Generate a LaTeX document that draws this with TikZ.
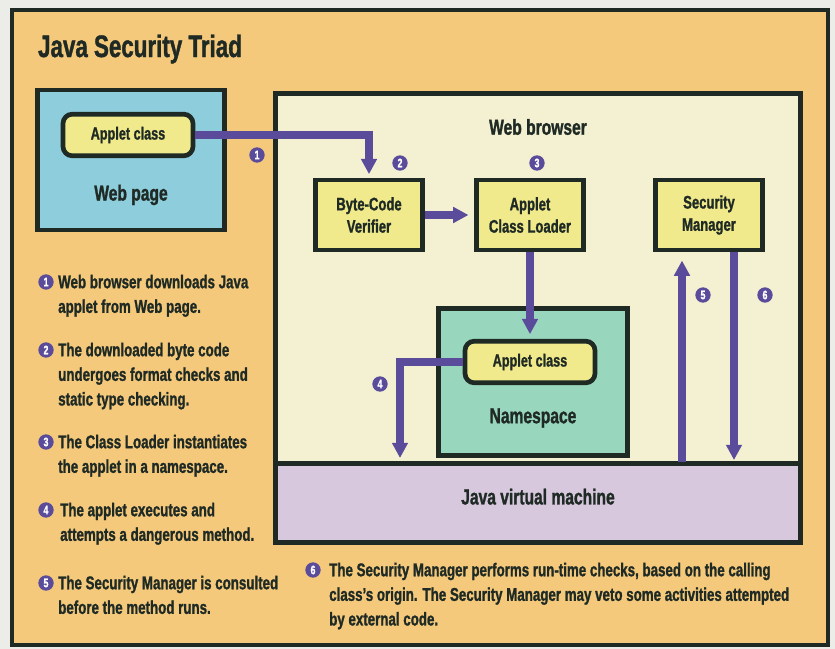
\documentclass[tikz,border=0pt]{standalone}
\usepackage{fontspec}
\setsansfont{Liberation Sans}[FakeStretch=0.72, BoldFeatures={FakeBold=1.2}]
\usetikzlibrary{arrows.meta,positioning,calc}
\definecolor{ink}{HTML}{1F2A24}
\definecolor{paper}{HTML}{ECECE8}
\definecolor{orangebg}{HTML}{F4C97C}
\definecolor{pagefill}{HTML}{8DCDDC}
\definecolor{boxfill}{HTML}{F0EA8C}
\definecolor{browserfill}{HTML}{F3F1D2}
\definecolor{nsfill}{HTML}{98D6BE}
\definecolor{vmfill}{HTML}{D7C8DE}
\definecolor{violet}{HTML}{5A4B9B}
\tikzset{
  every node/.style={font=\sffamily\bfseries, text=ink},
  box/.style={draw=ink, line width=4pt, fill=boxfill, align=center, inner sep=0pt, minimum width=3.2cm, minimum height=2.1cm, font=\sffamily\bfseries\fontsize{15.5}{19}\selectfont},
  pagebox/.style={box, fill=pagefill},
  browserbox/.style={box, fill=browserfill},
  vmbox/.style={box, fill=vmfill, text depth=11pt, font=\sffamily\bfseries\fontsize{18.5}{22}\selectfont},
  nsbox/.style={box, fill=nsfill},
  classbox/.style={box, rounded corners=8pt, minimum width=3.9cm, minimum height=1.25cm, font=\sffamily\bfseries\fontsize{15}{18}\selectfont},
  title/.style={font=\sffamily\bfseries\fontsize{26.5}{30}\selectfont},
  biglabel/.style={font=\sffamily\bfseries\fontsize{18.5}{22}\selectfont},
  arrow/.style={-{Triangle[length=13pt,width=13pt]}, line width=6pt, draw=violet},
  numdot/.style={circle, fill=violet, text=white, inner sep=0pt, minimum size=0.46cm, font=\sffamily\bfseries\fontsize{10.5}{10.5}\selectfont},
  note/.style={anchor=north west, align=left, inner sep=0pt, font=\sffamily\bfseries\fontsize{15.8}{21}\selectfont},
}
\begin{document}
\begin{tikzpicture}[x=0.03cm,y=-0.03cm]
\fill[paper] (0,0) rectangle (835,649);
\draw[ink, line width=3.5pt, fill=orangebg] (12,10) rectangle (828,645);
\node[title] (title) at (140,49) {Java Security Triad};

% web page
\node[pagebox, minimum width=5.6cm, minimum height=4.2cm] (page) at (131,160) {};
\node[classbox] (wapplet) at (128,135) {Applet class};
\node[biglabel] (pagelbl) at (131,195) {Web page};

% browser and virtual machine
\node[browserbox, minimum width=15.76cm, minimum height=11.15cm] (browser) at (538,279) {};
\node[vmbox, minimum width=15.76cm, minimum height=2.35cm] (jvm) at (538,503) {Java virtual machine};
\node[biglabel] (browserlbl) at (538,127) {Web browser};

\node[box] (verifier) at (369,215) {Byte-Code\\Verifier};
\node[box] (loader) at (530,215) {Applet\\Class Loader};
\node[box] (secmgr) at (709,215) {Security\\Manager};

\node[nsbox, minimum width=5.67cm, minimum height=4.4cm] (ns) at (533,382) {};
\node[classbox] (napplet) at (530,362) {Applet class};
\node[biglabel] (nslbl) at (533,418) {Namespace};

% flow
\coordinate (drop4) at (400,458);
\coordinate (rise5) at (682,462);
\coordinate (fall6) at (734,460);
\draw[arrow, shorten >=3pt] (wapplet.east) -| (verifier.north);
\draw[arrow, shorten >=5pt] (verifier.east) -- (loader.west);
\draw[arrow, shorten >=4pt] (loader.south) -- (napplet.north);
\draw[arrow] (napplet.west) -| (drop4);
\draw[arrow, shorten >=7pt] (rise5) -- (rise5 |- secmgr.south);
\draw[arrow] (fall6 |- secmgr.south) -- (fall6);

\node[numdot] (s1) at (257,155) {1};
\node[numdot] (s2) at (400,163) {2};
\node[numdot] (s3) at (537,163) {3};
\node[numdot] (s4) at (380,384) {4};
\node[numdot] (s5) at (703,295) {5};
\node[numdot] (s6) at (765,295) {6};

% notes
\node[numdot] (k1) at (46,282) {1};
\node[note] (n1) at (58,274.6) {Web browser downloads Java\\applet from Web page.};
\node[numdot] (k2) at (46,350) {2};
\node[note] (n2) at (58,342.6) {The downloaded byte code\\undergoes format checks and\\static type checking.};
\node[numdot] (k3) at (46,442) {3};
\node[note] (n3) at (58,434.6) {The Class Loader instantiates\\the applet in a namespace.};
\node[numdot] (k4) at (46,510) {4};
\node[note] (n4) at (60,502.6) {The applet executes and\\attempts a dangerous method.};
\node[numdot] (k5) at (46,583) {5};
\node[note] (n5) at (58,575.6) {The Security Manager is consulted\\before the method runs.};
\node[numdot] (k6) at (313,570) {6};
\node[note] (n6) at (329,562.6) {The Security Manager performs run-time checks, based on the calling\\class's origin. The Security Manager may veto some activities attempted\\by external code.};
\end{tikzpicture}
\end{document}
